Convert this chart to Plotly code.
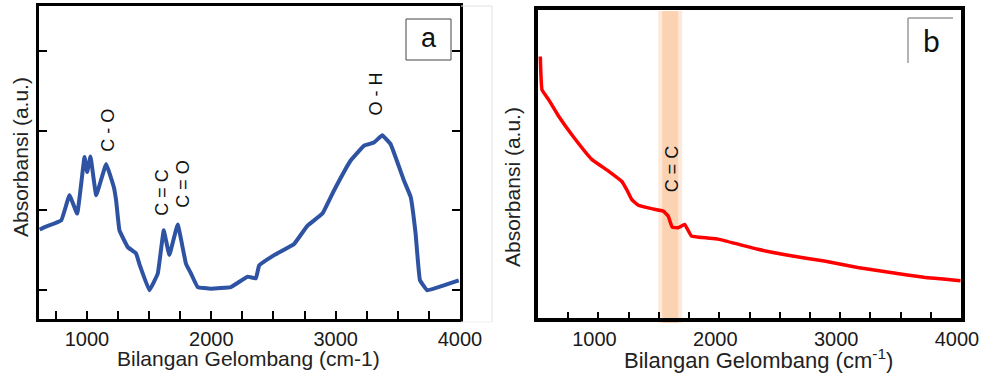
import plotly.graph_objects as go

# ---------------- data ----------------
# panel a (blue FTIR spectrum)
wn_a = [620, 660, 794, 860, 922, 981, 1002, 1029, 1075, 1155, 1217, 1235, 1262, 1329, 1396,
        1422, 1502, 1570, 1618, 1663, 1730, 1797, 1837, 1891, 1998, 2158, 2292, 2359, 2385,
        2506, 2666, 2774, 2894, 2987, 3121, 3228, 3308, 3375, 3442, 3549, 3603, 3643, 3678,
        3737, 3870, 3990]
abs_a = [1.76, 1.79, 1.875, 2.19, 1.96, 2.67, 2.48, 2.675, 2.19, 2.58, 2.29, 2.125, 1.75, 1.54,
         1.46, 1.33, 1.00, 1.21, 1.75, 1.44, 1.825, 1.33, 1.21, 1.04, 1.02, 1.04, 1.17, 1.15,
         1.31, 1.44, 1.58, 1.81, 1.96, 2.25, 2.625, 2.81, 2.85, 2.94, 2.83, 2.375, 2.17, 1.71,
         1.125, 1.00, 1.06, 1.125]

# panel b (red spectrum)
wn_b = [519, 533, 588, 671, 780, 945, 1083, 1192, 1234, 1275, 1330, 1440, 1536, 1577, 1610,
        1660, 1714, 1770, 1990, 2319, 2594, 2869, 3144, 3418, 3693, 3996]
abs_b = [0.849, 0.741, 0.709, 0.655, 0.595, 0.515, 0.477, 0.444, 0.417, 0.385, 0.366, 0.355,
         0.347, 0.331, 0.295, 0.293, 0.304, 0.266, 0.256, 0.223, 0.202, 0.185, 0.164, 0.148,
         0.132, 0.121]

# peak labels
labels_a = ["C - O", "C = C", "C = O", "O - H"]
label_a_x = [1163, 1602, 1770, 3322]
label_a_y = [3.0, 2.23, 2.33, 3.46]
labels_b = ["C = C"]
label_b_x = [1605]
label_b_y = [0.485]

band_outer = [1495, 1693]
band_inner = [1528, 1660]

x_ticks = [1000, 2000, 3000, 4000]
x_ticktext = ["1000", "2000", "3000", "4000"]
y_ticks_a = [1, 2, 3, 4]

W, H = 981, 374
def px(x): return x / W
def py(y): return 1 - y / H

FONT = "Liberation Sans, Arial, sans-serif"

fig = go.Figure()
fig.add_trace(go.Scatter(x=wn_a, y=abs_a, mode="lines", line=dict(color="#2F53A3", width=4,
                         shape="spline", smoothing=0.25), xaxis="x", yaxis="y", showlegend=False))
fig.add_trace(go.Scatter(x=wn_b, y=abs_b, mode="lines", line=dict(color="#FF0000", width=3.5,
                         shape="spline", smoothing=0.3), xaxis="x2", yaxis="y2", showlegend=False))

tickfont = dict(family=FONT, size=20, color="#1a1a1a")
common_x = dict(tickmode="array", tickvals=x_ticks, ticktext=x_ticktext, ticks="inside",
                showgrid=False, zeroline=False, showline=True, mirror=True, linecolor="black",
                tickcolor="black", tickfont=tickfont, automargin=False, ticklabeloverflow="allow")

fig.update_layout(
    width=W, height=H, margin=dict(l=0, r=0, t=0, b=0, pad=0, autoexpand=False),
    paper_bgcolor="white", plot_bgcolor="white",
    xaxis=dict(domain=[px(39), px(460)], range=[615, 4000], anchor="y", linewidth=3,
               ticklen=8, tickwidth=1.5,
               minor=dict(dtick=250, tick0=0, ticks="inside", ticklen=8, tickwidth=1.5, tickcolor="black"),
               **common_x),
    yaxis=dict(domain=[py(319), py(6)], range=[0.64, 4.56], anchor="x", showgrid=False,
               zeroline=False, showline=True, mirror="ticks", linecolor="black", linewidth=3,
               tickmode="array", tickvals=y_ticks_a, ticks="inside", ticklen=8, tickwidth=2,
               tickcolor="black", showticklabels=False, automargin=False),
    xaxis2=dict(domain=[px(538), px(961)], range=[500, 4000], anchor="y2", linewidth=4,
                ticklen=6, tickwidth=1.5, ticklabelshift=-4,
                minor=dict(dtick=250, tick0=0, ticks="inside", ticklen=6, tickwidth=1.5, tickcolor="black"),
                **common_x),
    yaxis2=dict(domain=[py(318), py(10)], range=[0, 1], anchor="x2", showgrid=False,
                zeroline=False, showline=True, mirror=True, linecolor="black", linewidth=4,
                ticks="", showticklabels=False, automargin=False),
)

shapes = [
    # orange band (panel b)
    dict(type="rect", xref="x2", yref="paper", x0=band_outer[0], x1=band_outer[1],
         y0=py(323), y1=py(11), fillcolor="#FEE8D9", line=dict(width=0), layer="below"),
    dict(type="rect", xref="x2", yref="paper", x0=band_inner[0], x1=band_inner[1],
         y0=py(323), y1=py(11), fillcolor="#FBD2B2", line=dict(width=0), layer="below"),
    # box "a"
    dict(type="rect", xref="paper", yref="paper", x0=px(406), x1=px(451), y0=py(60), y1=py(19),
         line=dict(color="#444", width=1), fillcolor="white"),
    # box "b" (only top & left edge visible)
    dict(type="line", xref="paper", yref="paper", x0=px(908), x1=px(953), y0=py(18), y1=py(18),
         line=dict(color="#9a9a9a", width=1.5)),
    dict(type="line", xref="paper", yref="paper", x0=px(908), x1=px(908), y0=py(18), y1=py(63),
         line=dict(color="#9a9a9a", width=1.5)),
    # faint image border of panel a
    dict(type="line", xref="paper", yref="paper", x0=px(461), x1=px(492), y0=py(6), y1=py(6),
         line=dict(color="#e2e2e2", width=1)),
    dict(type="line", xref="paper", yref="paper", x0=px(492), x1=px(492), y0=py(6), y1=py(322),
         line=dict(color="#e2e2e2", width=1)),
    dict(type="line", xref="paper", yref="paper", x0=px(461), x1=px(492), y0=py(322), y1=py(322),
         line=dict(color="#eeeeee", width=1)),
]
fig.update_layout(shapes=shapes)

C = dict(xanchor="center", yanchor="middle", showarrow=False)
ann = []
for t, x, y in zip(labels_a, label_a_x, label_a_y):
    ann.append(dict(text=t, x=x, y=y, xref="x", yref="y", textangle=-90,
                    font=dict(family=FONT, size=18, color="#111"), **C))
for t, x, y in zip(labels_b, label_b_x, label_b_y):
    ann.append(dict(text=t, x=x, y=y, xref="x2", yref="y2", textangle=-90,
                    font=dict(family=FONT, size=18, color="#111"), **C))

ann += [
    dict(text="a", x=px(428.5), y=py(38), xref="paper", yref="paper",
         font=dict(family=FONT, size=27, color="#111"), **C),
    dict(text="b", x=px(931), y=py(40), xref="paper", yref="paper",
         font=dict(family="Lato, sans-serif", size=30, color="#111"), **C),
    dict(text="Absorbansi (a.u.)", x=px(20), y=py(157), xref="paper", yref="paper",
         textangle=-90, font=dict(family=FONT, size=21, color="#222"), **C),
    dict(text="Bilangan Gelombang (cm-1)", x=px(248), y=py(358), xref="paper", yref="paper",
         font=dict(family=FONT, size=21, color="#222"), **C),
    dict(text="Absorbansi (a.u.)", x=px(512), y=py(187), xref="paper", yref="paper",
         textangle=-90, font=dict(family=FONT, size=21, color="#222"), **C),
    dict(text="Bilangan Gelombang (cm<sup>-1</sup>)", x=px(758), y=py(359), xref="paper",
         yref="paper", font=dict(family=FONT, size=22, color="#222"), **C),
]
fig.update_layout(annotations=ann)

fig.write_html("out.html", config={"displayModeBar": False},
               post_script="document.body.style.margin='0px';document.body.style.overflow='hidden';")
